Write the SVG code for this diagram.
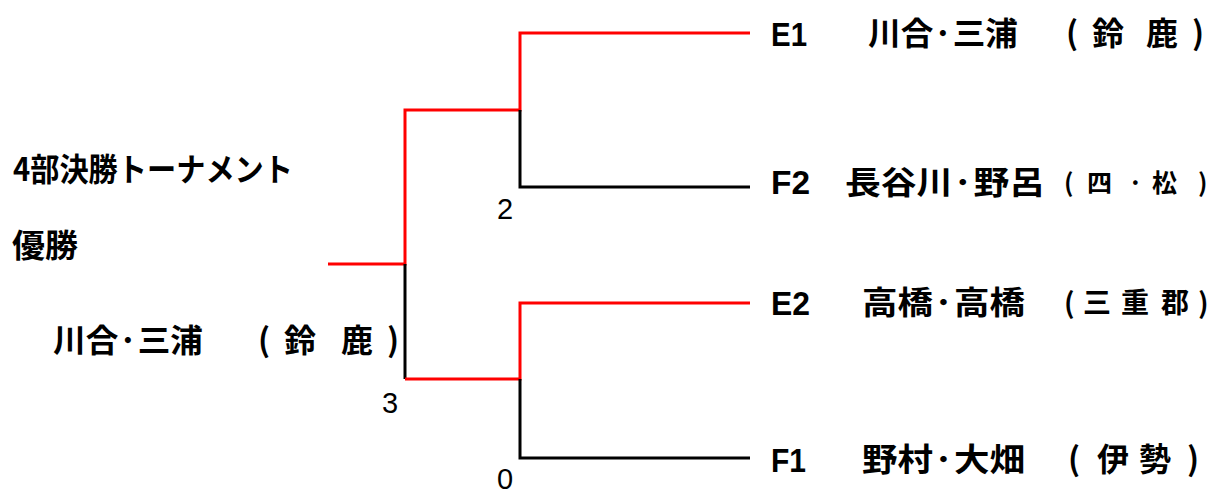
<svg xmlns="http://www.w3.org/2000/svg" width="1212" height="490" viewBox="0 0 1212 490">
<style>
.r{stroke:#ff0000;stroke-width:3;fill:none}
.k{stroke:#000;stroke-width:3;fill:none}
.lat{font-family:"Liberation Sans",Arial,sans-serif;font-weight:bold;font-size:33px;fill:#000}
.jp{font-family:"Noto Sans CJK JP","Noto Sans CJK SC",sans-serif;font-weight:bold;font-size:32px;fill:#000}
.jpm{font-family:"Noto Sans CJK JP","Noto Sans CJK SC",sans-serif;font-weight:bold;font-size:28px;fill:#000}
.jps{font-family:"Noto Sans CJK JP","Noto Sans CJK SC",sans-serif;font-weight:bold;font-size:25px;fill:#000}
.num{font-family:"Liberation Sans",Arial,sans-serif;font-size:29px;fill:#000}
</style>
<rect width="1212" height="490" fill="#fff"/>
<g id="connectors">
<polyline class="r" points="328,264 405,264 405,110 520,110 520,33 750,33"/>
<polyline class="k" points="520,110 520,187 750,187"/>
<polyline class="k" points="405,264 405,379"/>
<polyline class="r" points="405,379 520,379 520,303 750,303"/>
<polyline class="k" points="520,379 520,458 750,458"/>
</g>
<g id="title">
<text class="jp" x="13" y="181" font-size="31" textLength="280" lengthAdjust="spacingAndGlyphs">4部決勝トーナメント</text>
<text class="jp" x="12" y="257" font-size="33" textLength="66" lengthAdjust="spacingAndGlyphs">優勝</text>
</g>
<g id="champion">
<text class="jp" x="53" y="352" font-size="33" textLength="150" lengthAdjust="spacingAndGlyphs">川合·三浦</text>
<text class="jp" x="258" y="352">(</text>
<text class="jp" x="284" y="352">鈴</text>
<text class="jp" x="341" y="352">鹿</text>
<text class="jp" x="387" y="352">)</text>
</g>
<g id="E1">
<text class="lat" x="771" y="46" textLength="36" lengthAdjust="spacingAndGlyphs">E1</text>
<text class="jp" x="868" y="45" textLength="150" lengthAdjust="spacingAndGlyphs">川合·三浦</text>
<text class="jp" x="1066" y="45">(</text>
<text class="jp" x="1092" y="45">鈴</text>
<text class="jp" x="1146" y="45">鹿</text>
<text class="jp" x="1192" y="45">)</text>
</g>
<g id="F2">
<text class="lat" x="771" y="194" textLength="39" lengthAdjust="spacingAndGlyphs">F2</text>
<text class="jp" x="845" y="194" textLength="200" lengthAdjust="spacingAndGlyphs">長谷川·野呂</text>
<text class="jps" x="1064" y="192">(</text>
<text class="jps" x="1087" y="192">四</text>
<text class="jps" x="1128" y="192">·</text>
<text class="jps" x="1152" y="192">松</text>
<text class="jps" x="1198" y="192">)</text>
</g>
<g id="E2">
<text class="lat" x="771" y="315" textLength="39" lengthAdjust="spacingAndGlyphs">E2</text>
<text class="jp" x="862" y="314" textLength="163" lengthAdjust="spacingAndGlyphs">高橋·高橋</text>
<text class="jpm" x="1064" y="313">(</text>
<text class="jpm" x="1083" y="313">三</text>
<text class="jpm" x="1121" y="313">重</text>
<text class="jpm" x="1161" y="313">郡</text>
<text class="jpm" x="1198" y="313">)</text>
</g>
<g id="F1">
<text class="lat" x="771" y="472" textLength="35" lengthAdjust="spacingAndGlyphs">F1</text>
<text class="jp" x="862" y="471" textLength="163" lengthAdjust="spacingAndGlyphs">野村·大畑</text>
<text class="jp" x="1068" y="471">(</text>
<text class="jp" x="1097" y="471">伊</text>
<text class="jp" x="1139" y="471">勢</text>
<text class="jp" x="1187" y="471">)</text>
</g>
<g id="scores">
<text class="num" x="497" y="219">2</text>
<text class="num" x="382" y="413">3</text>
<text class="num" x="497" y="489">0</text>
</g>
</svg>
